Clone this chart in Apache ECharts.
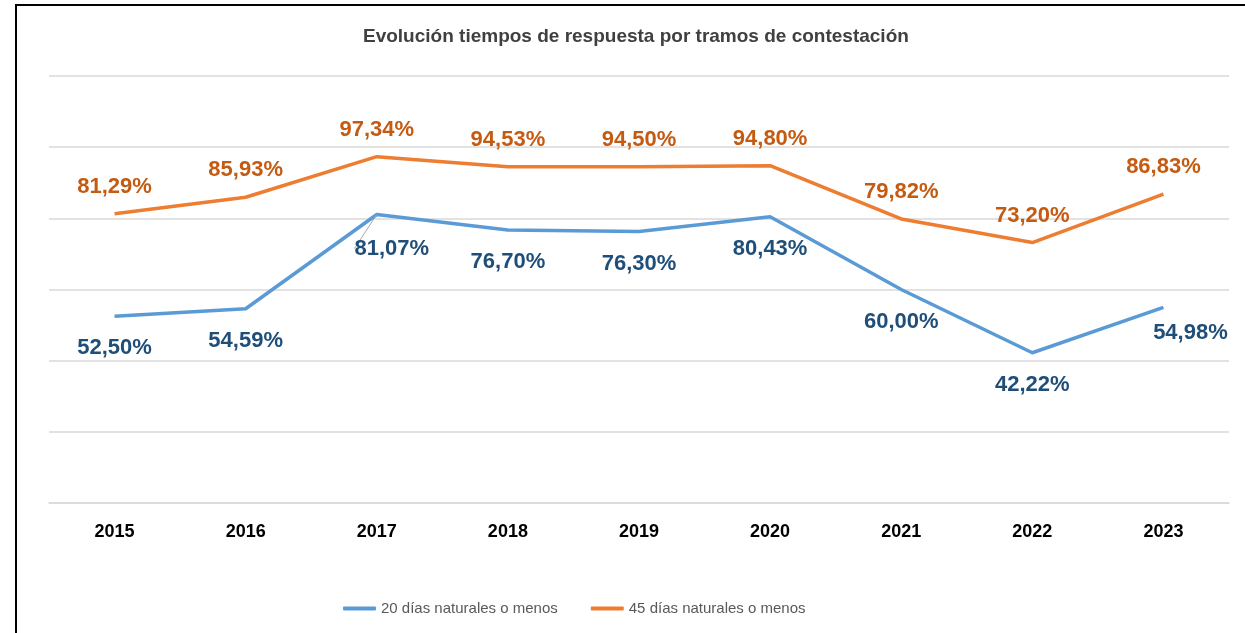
<!DOCTYPE html>
<html>
<head>
<meta charset="utf-8">
<script src="https://cdn.jsdelivr.net/npm/echarts@6/dist/echarts.min.js"></script>
<style>
  html, body { margin: 0; padding: 0; background: #fff; }
  #frame { position: absolute; left: 15px; top: 4px; width: 1240px; height: 640px;
           border-left: 2px solid #000; border-top: 2px solid #000; }
  #chart { width: 1245px; height: 633px; position: absolute; left: 0; top: 0; }
</style>
</head>
<body>
<div id="frame"></div>
<div id="chart"></div>
<script>
// datos
const years = ['2015', '2016', '2017', '2018', '2019', '2020', '2021', '2022', '2023'];
const dias20 = [52.50, 54.59, 81.07, 76.70, 76.30, 80.43, 60.00, 42.22, 54.98];
const dias45 = [81.29, 85.93, 97.34, 94.53, 94.50, 94.80, 79.82, 73.20, 86.83];
const seriesNames = ['20 días naturales o menos', '45 días naturales o menos'];

const fmt = v => v.toFixed(2).replace('.', ',') + '%';

// desplazamientos de etiquetas de la serie azul
const blueShift = {2: [15, 2], 8: [27, -6]};

const chart = echarts.init(document.getElementById('chart'));
chart.setOption({
  animation: false,
  title: {
    text: 'Evolución tiempos de respuesta por tramos de contestación',
    left: 358,
    top: 22,
    textStyle: { color: '#404040', fontSize: 19, fontWeight: 'bold', fontFamily: 'Liberation Sans' }
  },
  legend: {
    data: seriesNames,
    bottom: 12,
    left: 338,
    itemWidth: 33,
    itemHeight: 4,
    itemGap: 33,
    icon: 'roundRect',
    textStyle: { color: '#595959', fontSize: 15, fontFamily: 'Liberation Sans' }
  },
  grid: { left: 49, right: 16, top: 76, bottom: 130 },
  xAxis: {
    type: 'category',
    data: years,
    boundaryGap: true,
    axisLine: { lineStyle: { color: '#d9d9d9', width: 1.5 } },
    axisTick: { show: false },
    axisLabel: { color: '#000', fontSize: 18, fontWeight: 'bold', fontFamily: 'Liberation Sans', margin: 20 }
  },
  yAxis: {
    type: 'value',
    min: 0, max: 120, interval: 20,
    axisLabel: { show: false },
    axisLine: { show: false },
    axisTick: { show: false },
    splitLine: { lineStyle: { color: '#d9d9d9', width: 1.5 } }
  },
  series: [
    {
      name: seriesNames[0],
      type: 'line',
      data: dias20.map((v, i) => i === 2 ? { value: v, labelLine: { show: true } } : v),
      symbol: 'circle',
      symbolSize: 0,
      lineStyle: { color: '#5B9BD5', width: 3.5 },
      itemStyle: { color: '#5B9BD5' },
      label: {
        show: true, position: 'bottom', distance: 21,
        color: '#1F4E79', fontSize: 22, fontWeight: 'bold', fontFamily: 'Liberation Sans',
        formatter: p => fmt(p.value)
      },
      labelLine: { show: false, lineStyle: { color: '#a6a6a6', width: 1 } },
      labelLayout: p => blueShift[p.dataIndex]
        ? { dx: blueShift[p.dataIndex][0], dy: blueShift[p.dataIndex][1] } : {}
    },
    {
      name: seriesNames[1],
      type: 'line',
      data: dias45,
      symbol: 'circle',
      symbolSize: 0,
      lineStyle: { color: '#ED7D31', width: 3.5 },
      itemStyle: { color: '#ED7D31' },
      label: {
        show: true, position: 'top', distance: 16,
        color: '#C55A11', fontSize: 22, fontWeight: 'bold', fontFamily: 'Liberation Sans',
        formatter: p => fmt(p.value)
      }
    }
  ]
});
</script>
</body>
</html>
